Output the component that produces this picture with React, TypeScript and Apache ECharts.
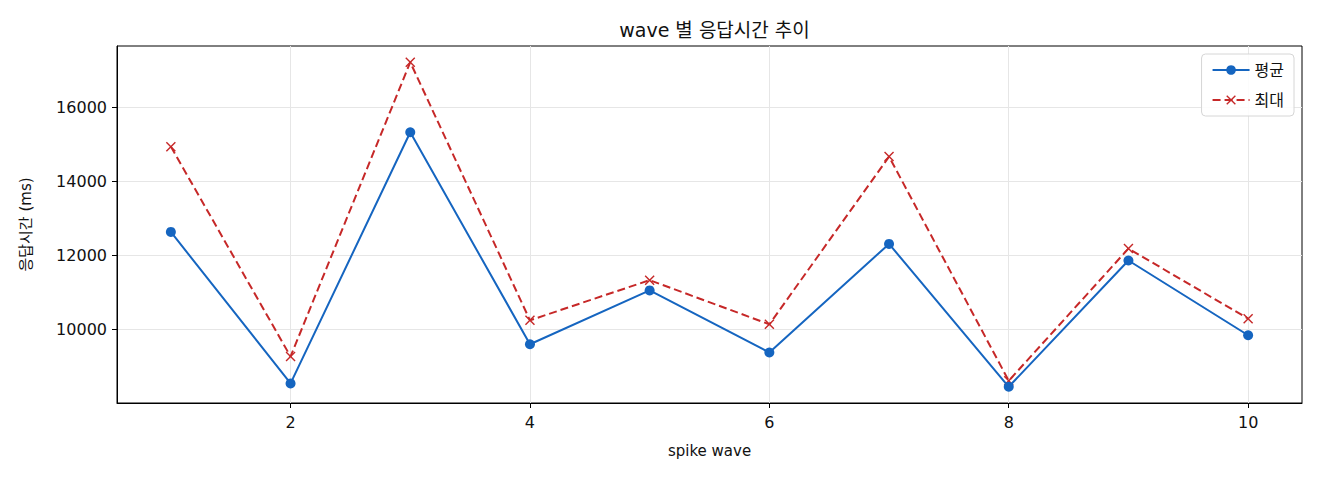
import React, { useEffect, useRef } from 'react';
import * as echarts from 'echarts';

// spike wave 번호
const waves = [1, 2, 3, 4, 5, 6, 7, 8, 9, 10];
// 평균 응답시간 (ms)
const avgMs = [12633, 8536, 15329, 9596, 11051, 9372, 12310, 8445, 11860, 9838];
// 최대 응답시간 (ms)
const maxMs = [14941, 9264, 17224, 10243, 11329, 10135, 14671, 8607, 12183, 10288];

const xTicks = [2, 4, 6, 8, 10];
const yTicks = [10000, 12000, 14000, 16000];

const FONT = '"DejaVu Sans", "Noto Sans CJK KR", sans-serif';
const BLUE = '#1565c0';
const RED = '#c62828';
const CROSS = 'path://M1,0 L5,4 L9,0 L10,1 L6,5 L10,9 L9,10 L5,6 L1,10 L0,9 L4,5 L0,1 Z';

const App: React.FC = () => {
  const chartRef = useRef<HTMLDivElement | null>(null);

  useEffect(() => {
    document.body.style.margin = '0';
    if (!chartRef.current) return;
    const chart = echarts.init(chartRef.current, null, { renderer: 'svg' });

    const all = [...avgMs, ...maxMs];
    const lo = Math.min(...all);
    const hi = Math.max(...all);
    const pad = (hi - lo) * 0.05;

    const option = {
      animation: false,
      textStyle: { fontFamily: FONT },
      title: {
        text: 'wave 별 응답시간 추이',
        left: 709.5,
        textAlign: 'center',
        top: 15,
        textStyle: { fontFamily: FONT, fontSize: 19, fontWeight: 'normal', color: '#111' },
      },
      legend: {
        orient: 'vertical',
        right: 26,
        top: 54,
        padding: [8, 10, 8, 10],
        itemWidth: 37,
        itemHeight: 12,
        itemGap: 14,
        borderColor: '#d6d6d6',
        borderWidth: 1,
        borderRadius: 4,
        backgroundColor: 'rgba(255,255,255,0.85)',
        textStyle: { fontFamily: FONT, fontSize: 16, color: '#111' },
        data: ['평균', '최대'],
      },
      grid: {
        left: 117,
        right: 18,
        top: 46,
        bottom: 77,
        show: true,
        borderColor: '#000',
        borderWidth: 1,
        backgroundColor: 'transparent',
      },
      xAxis: {
        type: 'value',
        min: 1 - 0.45,
        max: 10 + 0.45,
        name: 'spike wave',
        nameLocation: 'middle',
        nameGap: 40,
        nameTextStyle: { fontFamily: FONT, fontSize: 15, color: '#111' },
        axisLine: { show: true, lineStyle: { color: '#000', width: 1 } },
        axisTick: { show: true, length: 5, customValues: xTicks, lineStyle: { color: '#000' } },
        axisLabel: {
          customValues: xTicks,
          margin: 11,
          fontFamily: FONT,
          fontSize: 16,
          color: '#111',
          formatter: (v: number) => String(v),
        },
        splitLine: { show: true, lineStyle: { color: '#e6e6e6', width: 1 } },
      },
      yAxis: {
        type: 'value',
        min: lo - pad,
        max: hi + pad,
        name: '응답시간 (ms)',
        nameLocation: 'middle',
        nameRotate: 90,
        nameGap: 84,
        nameTextStyle: { fontFamily: FONT, fontSize: 15, color: '#111' },
        axisLine: { show: true, lineStyle: { color: '#000', width: 1 } },
        axisTick: { show: true, length: 5, customValues: yTicks, lineStyle: { color: '#000' } },
        axisLabel: {
          customValues: yTicks,
          margin: 10,
          fontFamily: FONT,
          fontSize: 16,
          color: '#111',
          formatter: (v: number) => String(v),
        },
        splitLine: { show: true, lineStyle: { color: '#e6e6e6', width: 1 } },
      },
      series: [
        {
          name: '평균',
          type: 'line',
          data: waves.map((w, i) => [w, avgMs[i]]),
          symbol: 'circle',
          symbolSize: 10,
          itemStyle: { color: BLUE },
          lineStyle: { color: BLUE, width: 2 },
          z: 3,
        },
        {
          name: '최대',
          type: 'line',
          data: waves.map((w, i) => [w, maxMs[i]]),
          symbol: CROSS,
          symbolSize: 10,
          itemStyle: { color: RED },
          lineStyle: { color: RED, width: 2, type: [8, 4] },
          z: 2,
        },
      ],
    };

    chart.setOption(option);
    return () => {
      chart.dispose();
    };
  }, []);

  return <div ref={chartRef} style={{ width: '1320px', height: '480px' }} />;
};

export default App;
